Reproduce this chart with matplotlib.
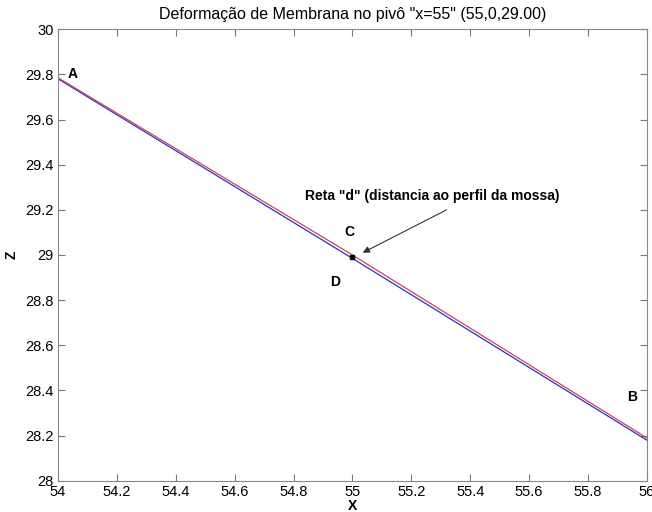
import matplotlib.pyplot as plt
from matplotlib.ticker import FuncFormatter

plt.rcParams['font.family'] = ['Liberation Sans', 'DejaVu Sans']

# red line (A-C-B) and blue line (A-D-B)
red_x = [54.0, 55.0, 56.0]
red_z = [29.785, 29.0, 28.19]
blue_x = [54.0, 55.0, 56.0]
blue_z = [29.78, 28.985, 28.18]

# pivot point
pivot_x = [55.0]
pivot_z = [28.993]

point_labels = ["A", "B", "C", "D"]
label_x = [54.05, 55.95, 54.99, 54.94]
label_z = [29.8, 28.37, 29.1, 28.88]

xticks = [54, 54.2, 54.4, 54.6, 54.8, 55, 55.2, 55.4, 55.6, 55.8, 56]
yticks = [28, 28.2, 28.4, 28.6, 28.8, 29, 29.2, 29.4, 29.6, 29.8, 30]

fig = plt.figure(figsize=(6.52, 5.12), dpi=100)
ax = fig.add_axes([0.089, 0.061, 0.903, 0.882])

ax.plot(blue_x, blue_z, color='#3030c0', linewidth=0.9)
ax.plot(red_x, red_z, color='#d04060', linewidth=0.9)
ax.plot(pivot_x, pivot_z, 's', color='black', markersize=3)

for lab, lx, lz in zip(point_labels, label_x, label_z):
    ax.text(lx, lz, lab, fontsize=10, fontweight='bold', ha='center', va='center')

ax.text(55.27, 29.26, 'Reta "d" (distancia ao perfil da mossa)', fontsize=10,
        fontweight='bold', ha='center', va='center')
ax.annotate('', xy=(55.035, 29.01), xytext=(55.32, 29.2),
            arrowprops=dict(arrowstyle='-|>', color='#333333', lw=0.8, shrinkA=0, shrinkB=0))

ax.set_xlim(54, 56)
ax.set_ylim(28, 30)
ax.set_xticks(xticks)
ax.set_yticks(yticks)
fmt = FuncFormatter(lambda v, p: '%g' % v)
ax.xaxis.set_major_formatter(fmt)
ax.yaxis.set_major_formatter(fmt)
ax.tick_params(direction='in', top=True, right=True, labelsize=10.5, color='#777777', length=5, pad=3)
for s in ax.spines.values():
    s.set_color('#888888')

ax.set_xlabel('X', fontsize=10, fontweight='bold', labelpad=0)
ax.set_ylabel('Z', fontsize=10, fontweight='bold', labelpad=5)
ax.set_title('Deformação de Membrana no pivô "x=55" (55,0,29.00)', fontsize=11.5, pad=7)

fig.savefig('out.png', dpi=100)
